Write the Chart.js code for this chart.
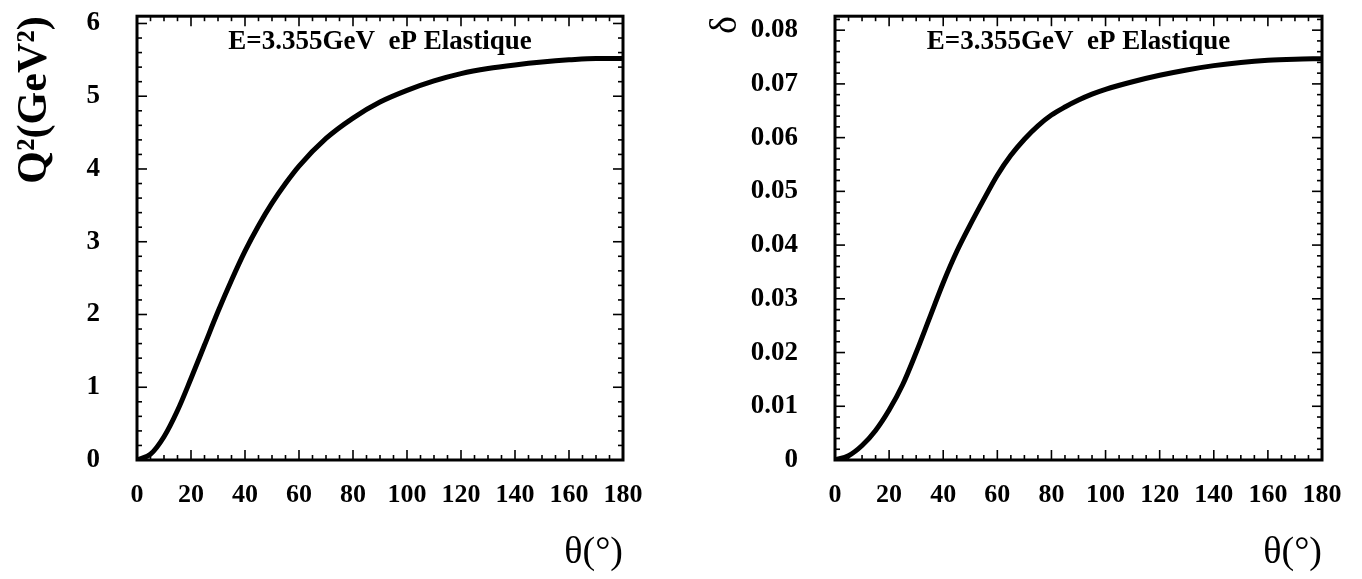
<!DOCTYPE html>
<html>
<head>
<meta charset="utf-8">
<script src="https://cdn.jsdelivr.net/npm/chart.js@4.4.0/dist/chart.umd.min.js"></script>
<style>
html,body{margin:0;padding:0;background:#fff;overflow:hidden;width:1362px;height:579px}
canvas{position:absolute;top:0}
#c1{left:0}
#c2{left:681px}
</style>
</head>
<body>
<canvas id="c1" width="681" height="579"></canvas>
<canvas id="c2" width="681" height="579"></canvas>
<script>
// ---- data ----
const thetaQ2 = [0,5,10,15,20,25,30,35,40,45,50,55,60,70,80,90,100,110,120,130,140,150,160,170,180];
const q2Values = [0,0.08,0.32,0.68,1.12,1.58,2.04,2.47,2.87,3.22,3.53,3.80,4.04,4.42,4.70,4.92,5.08,5.21,5.31,5.38,5.43,5.47,5.50,5.52,5.52];

const thetaDelta = [0,5,10,15,20,25,30,35,40,45,50,55,60,65,70,75,80,85,90,95,100,110,120,130,140,150,160,170,180];
const deltaValues = [0,0.0008,0.0027,0.0055,0.0093,0.0140,0.0200,0.0265,0.0330,0.0388,0.0438,0.0485,0.0530,0.0567,0.0597,0.0622,0.0642,0.0657,0.0670,0.0681,0.0690,0.0704,0.0716,0.0726,0.0734,0.0740,0.0744,0.0746,0.0747];

const thetaTicks = [0,20,40,60,80,100,120,140,160,180];
const q2Ticks = [0,1,2,3,4,5,6];
const deltaTicks = [0,0.01,0.02,0.03,0.04,0.05,0.06,0.07,0.08];

const plotTitle = 'E=3.355GeV  eP Elastique';
const q2AxisTitle = 'Q²(GeV²)';
const deltaAxisTitle = 'δ';
const thetaAxisTitle = 'θ(°)';

const SERIF = '"Liberation Serif", "Times New Roman", serif';

// frame, inward ticks (major + minor) on all four sides, in-plot title
const framePlugin = {
  id: 'frame',
  afterDatasetsDraw(chart, args, opts) {
    const {ctx, chartArea: a, scales: {x, y}} = chart;
    ctx.save();
    ctx.strokeStyle = '#000';
    ctx.lineWidth = 1.6;
    const seg = (x1, y1, x2, y2) => { ctx.beginPath(); ctx.moveTo(x1, y1); ctx.lineTo(x2, y2); ctx.stroke(); };
    const nx = Math.round((x.max - x.min) / opts.minorX);
    for (let i = 0; i <= nx; i++) {
      const v = x.min + i * opts.minorX;
      const len = (i % opts.perMajorX === 0) ? 10 : 5;
      const px = x.getPixelForValue(v);
      seg(px, a.bottom, px, a.bottom - len);
      seg(px, a.top, px, a.top + len);
    }
    const ny = Math.floor((y.max - y.min) / opts.minorY + 1e-6);
    for (let i = 0; i <= ny; i++) {
      const v = y.min + i * opts.minorY;
      const len = (i % opts.perMajorY === 0) ? 10 : 5;
      const py = y.getPixelForValue(v);
      seg(a.left, py, a.left + len, py);
      seg(a.right, py, a.right - len, py);
    }
    ctx.lineWidth = 3;
    ctx.strokeRect(a.left, a.top, a.right - a.left, a.bottom - a.top);
    ctx.fillStyle = '#000';
    ctx.font = 'bold 27px ' + SERIF;
    ctx.textAlign = 'center';
    ctx.textBaseline = 'middle';
    ctx.fillText(opts.text, (a.left + a.right) / 2, a.top + 26);
    ctx.restore();
  }
};

function makeChart(id, xs, ys, yTicks, yMax, yTitle, yTitleFont, yTitlePad, yAxisWidth, padTop, padRight, minorY) {
  const pts = xs.map((t, i) => ({x: t, y: ys[i]}));
  return new Chart(document.getElementById(id), {
    type: 'line',
    data: {datasets: [{
      data: pts,
      borderColor: '#000',
      borderWidth: 5,
      pointRadius: 0,
      cubicInterpolationMode: 'monotone',
      fill: false
    }]},
    plugins: [framePlugin],
    options: {
      responsive: false,
      animation: false,
      events: [],
      layout: {padding: {left: 0, top: padTop, right: padRight, bottom: 0}},
      plugins: {
        legend: {display: false},
        tooltip: {enabled: false},
        frame: {text: plotTitle, minorX: 5, perMajorX: 4, minorY: minorY, perMajorY: 5}
      },
      scales: {
        x: {
          type: 'linear', min: 0, max: 180,
          grid: {display: false, drawTicks: true, tickLength: 20},
          border: {display: false},
          afterBuildTicks: s => { s.ticks = thetaTicks.map(v => ({value: v})); },
          afterFit: s => { s.height = 119; },
          ticks: {color: '#000', padding: 0, autoSkip: false, maxRotation: 0,
                  font: {family: SERIF, size: 26, weight: 'bold'}},
          title: {display: true, text: thetaAxisTitle, align: 'end', color: '#000',
                  font: {family: SERIF, size: 38}, padding: {top: 0, bottom: 3}}
        },
        y: {
          type: 'linear', min: 0, max: yMax,
          grid: {display: false, drawTicks: true, tickLength: 37},
          border: {display: false},
          afterBuildTicks: s => { s.ticks = yTicks.map(v => ({value: v})); },
          afterFit: s => { s.width = yAxisWidth; },
          ticks: {color: '#000', padding: 0,
                  callback: v => String(v),
                  font: {family: SERIF, size: 27, weight: 'bold'}},
          title: {display: true, text: yTitle, align: 'end', color: '#000',
                  font: yTitleFont, padding: {top: yTitlePad, bottom: 0}}
        }
      }
    }
  });
}

makeChart('c1', thetaQ2, q2Values, q2Ticks, 6.1, q2AxisTitle,
          {family: SERIF, size: 42, weight: 'bold'}, 10, 137, 10, 58, 0.2);
makeChart('c2', thetaDelta, deltaValues, deltaTicks, 0.0826, deltaAxisTitle,
          {family: SERIF, size: 38}, 22, 154, 12, 40, 0.002);
</script>
</body>
</html>
